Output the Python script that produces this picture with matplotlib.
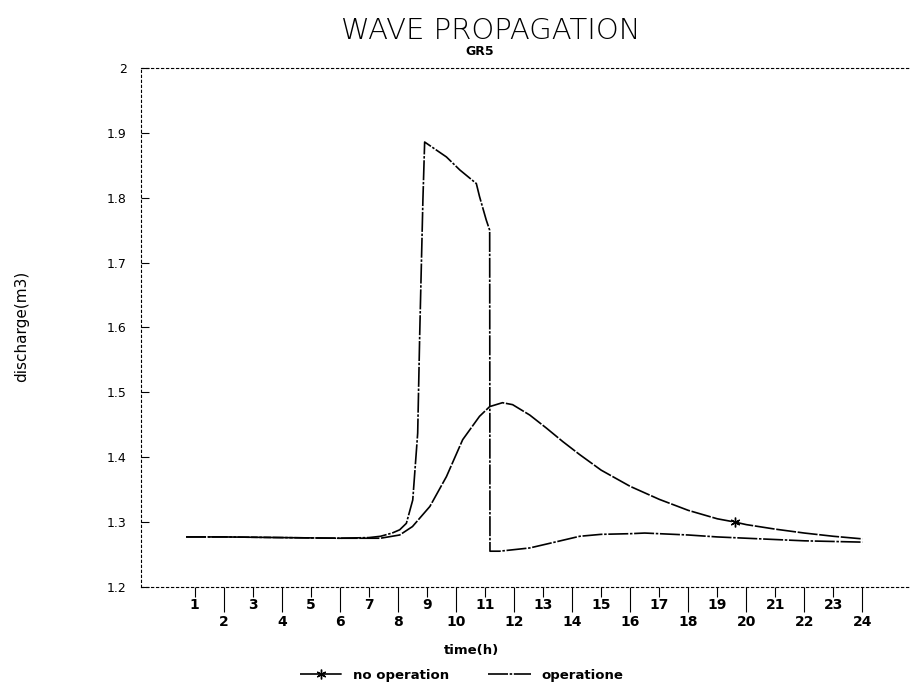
import matplotlib
matplotlib.use("Agg")
import matplotlib.pyplot as plt
import numpy as np

# discharge at GR5, hourly time axis
t_no_op = [0.7, 2, 4, 6, 7, 7.4, 8.06, 8.5, 9.1, 9.67, 10.23, 10.81, 11.16, 11.6,
           11.95, 12.54, 13.11, 13.68, 14.26, 15, 16, 17, 18, 19, 19.6, 20, 21,
           22, 23, 24]
q_no_op = [1.277, 1.277, 1.276, 1.275, 1.275, 1.275, 1.280, 1.293, 1.324, 1.370,
           1.427, 1.463, 1.478, 1.484, 1.481, 1.465, 1.445, 1.424, 1.404, 1.380,
           1.355, 1.335, 1.318, 1.305, 1.300, 1.296, 1.289, 1.283, 1.278, 1.274]

t_op = [0.7, 2, 4, 6, 7, 7.4, 7.8, 8.06, 8.29, 8.51, 8.68, 8.75, 8.86, 8.92, 9.67,
        10.13, 10.7, 10.81, 11.04, 11.16, 11.17, 11.5, 12.54, 13.5, 14.26, 15, 16,
        16.5, 17, 18, 19, 20, 21, 22, 23, 24]
q_op = [1.277, 1.277, 1.276, 1.275, 1.276, 1.278, 1.283, 1.288, 1.298, 1.334, 1.437,
        1.590, 1.797, 1.886, 1.863, 1.843, 1.822, 1.802, 1.766, 1.750, 1.255, 1.255,
        1.260, 1.270, 1.278, 1.281, 1.282, 1.283, 1.282, 1.280, 1.277, 1.275, 1.273,
        1.271, 1.270, 1.269]

star_at = 24  # index in t_no_op where the marker sits

y_ticks = [1.2, 1.3, 1.4, 1.5, 1.6, 1.7, 1.8, 1.9, 2.0]
y_labels = ['1.2', '1.3', '1.4', '1.5', '1.6', '1.7', '1.8', '1.9', '2']
hours = list(range(1, 25))

fig = plt.figure(figsize=(9.14, 6.88), dpi=100)
ax = fig.add_axes([0.154, 0.147, 0.841, 0.754])

dash = (0, (12, 1.0))
dashdot = (0, (12, 1.0, 1.5, 1.0))
ax.plot(t_no_op, q_no_op, color='black', lw=1.2, linestyle=dash,
        marker=(6, 2, 0), markersize=7, markevery=[star_at], label='no operation')
ax.plot(t_op, q_op, color='black', lw=1.2, linestyle=dashdot, label='operatione')

ax.set_xlim(-0.86, 25.62)
ax.set_ylim(1.2, 2.0)

# spines drawn as thin dotted lines, no right spine
for side in ['left', 'top', 'bottom']:
    ax.spines[side].set_linestyle((0, (2, 2.5)))
    ax.spines[side].set_linewidth(0.8)
ax.spines['right'].set_visible(False)

ax.set_yticks(y_ticks)
ax.set_yticklabels(y_labels, fontsize=9)
ax.tick_params(axis='y', direction='in', length=6, width=0.8, pad=10)

# even hours get long ticks with labels lower down, odd hours short ones
even = [h for h in hours if h % 2 == 0]
odd = [h for h in hours if h % 2 == 1]
ax.set_xticks(even)
ax.set_xticklabels([str(h) for h in even], fontsize=10, fontweight='bold')
ax.set_xticks(odd, minor=True)
ax.set_xticklabels([str(h) for h in odd], minor=True, fontsize=10, fontweight='bold')
ax.tick_params(axis='x', which='major', direction='out', length=18, width=0.8, pad=2)
ax.tick_params(axis='x', which='minor', direction='out', length=7, width=0.8, pad=1,
               labelbottom=True)

ax.set_xlabel('time(h)', fontsize=9.5, fontweight='bold', labelpad=1)
ax.xaxis.set_label_coords(0.43, -0.11)

fig.text(0.024, 0.525, 'discharge(m3)', rotation=90, ha='center', va='center',
         fontsize=11, fontweight='normal')

fig.text(0.537, 0.955, 'WAVE PROPAGATION', ha='center', va='center',
         fontsize=21, fontweight='light')
fig.text(0.525, 0.925, 'GR5', ha='center', va='center', fontsize=9, fontweight='bold')

fig.legend(loc='center', bbox_to_anchor=(0.505, 0.018), ncol=2, frameon=False,
           prop={'weight': 'bold', 'size': 9.5}, handlelength=3.2,
           columnspacing=3, numpoints=1)

fig.savefig('out.png', dpi=100)
